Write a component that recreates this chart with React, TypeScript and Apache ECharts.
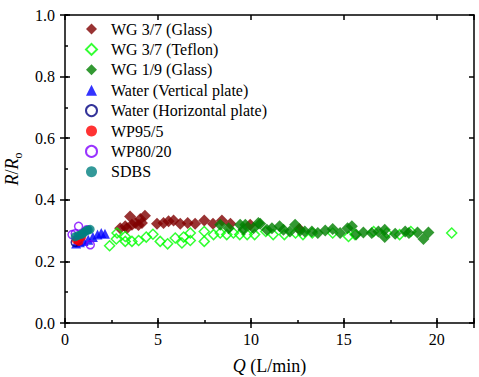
import React, { useEffect, useRef } from "react";
import * as echarts from "echarts";

// WG 3/7 (Glass)
const wg37GlassQ = [2.97, 3.24, 3.33, 3.5, 3.6, 3.78, 3.95, 4.05, 4.14, 4.3, 4.95, 5.3, 5.57, 5.84, 6.2, 6.6, 7.0, 7.49, 7.96, 8.44, 8.9, 9.96, 12.6];
const wg37GlassR = [0.308, 0.314, 0.308, 0.346, 0.319, 0.325, 0.318, 0.338, 0.325, 0.348, 0.322, 0.325, 0.33, 0.333, 0.322, 0.325, 0.322, 0.333, 0.322, 0.333, 0.322, 0.319, 0.305];

// WG 3/7 (Teflon)
const wg37TeflonQ = [2.4, 2.76, 2.8, 3.24, 3.24, 3.6, 3.96, 4.37, 4.73, 5.12, 5.52, 5.93, 6.29, 6.38, 6.74, 6.74, 7.49, 7.49, 7.99, 8.35, 8.7, 9.06, 9.4, 9.8, 10.2, 10.8, 11.2, 11.8, 12.4, 12.8, 13.3, 14.4, 15.25, 15.6, 16.6, 17.3, 18.0, 18.6, 20.8];
const wg37TeflonR = [0.251, 0.273, 0.292, 0.281, 0.265, 0.265, 0.268, 0.279, 0.288, 0.265, 0.257, 0.276, 0.26, 0.279, 0.292, 0.268, 0.297, 0.265, 0.287, 0.292, 0.287, 0.292, 0.287, 0.287, 0.287, 0.297, 0.287, 0.287, 0.292, 0.287, 0.292, 0.292, 0.281, 0.287, 0.297, 0.292, 0.287, 0.297, 0.292];

// WG 1/9 (Glass)
const wg19GlassQ = [8.35, 8.8, 9.42, 9.6, 9.7, 10.14, 10.4, 10.5, 10.86, 11.13, 11.54, 11.75, 12.1, 12.38, 12.65, 12.9, 13.28, 13.6, 14.0, 14.4, 14.8, 15.2, 15.43, 15.66, 16.05, 16.5, 16.86, 17.2, 17.2, 17.76, 18.3, 18.5, 18.96, 19.28, 19.55];
const wg19GlassR = [0.319, 0.308, 0.319, 0.303, 0.319, 0.308, 0.325, 0.322, 0.303, 0.308, 0.314, 0.303, 0.297, 0.319, 0.3, 0.297, 0.297, 0.292, 0.3, 0.305, 0.292, 0.308, 0.314, 0.287, 0.294, 0.292, 0.297, 0.303, 0.279, 0.29, 0.297, 0.292, 0.294, 0.273, 0.294];

// Water (Vertical plate)
const waterVertQ = [0.6, 0.8, 1.0, 1.25, 1.5, 1.75, 1.95, 2.15];
const waterVertR = [0.258, 0.262, 0.266, 0.27, 0.279, 0.287, 0.292, 0.29];

// Water (Horizontal plate)
const waterHorQ = [0.55, 0.7];
const waterHorR = [0.262, 0.27];

// WP95/5
const wp95Q = [0.6, 0.75, 0.9];
const wp95R = [0.27, 0.265, 0.28];

// WP80/20
const wp80Q = [0.38, 0.55, 0.73, 1.18, 1.36];
const wp80R = [0.287, 0.29, 0.314, 0.303, 0.254];

// SDBS
const sdbsQ = [0.55, 0.7, 0.85, 0.95, 1.05, 1.15, 1.25, 1.35];
const sdbsR = [0.28, 0.284, 0.287, 0.29, 0.295, 0.3, 0.302, 0.304];

const xTicks = { min: 0, max: 22, interval: 5 };
const yTicks = { min: 0, max: 1, interval: 0.2 };

const FONT = "Liberation Serif, Times New Roman, serif";

function pairs(q: number[], r: number[]) {
  return q.map((v, i) => [v, r[i]]);
}

export default function App() {
  const ref = useRef<HTMLDivElement>(null);
  useEffect(() => {
    const chart = echarts.init(ref.current!, null, { renderer: "svg" });
    const lineStyle = { color: "#000", width: 1.5 };
    const baseX = (extra: any) => ({
      type: "value",
      min: xTicks.min,
      max: xTicks.max,
      interval: xTicks.interval,
      position: "bottom",
      axisLabel: { show: false },
      axisLine: { show: false },
      splitLine: { show: false },
      axisTick: { show: false },
      ...extra,
    });
    const baseY = (extra: any) => ({
      type: "value",
      min: yTicks.min,
      max: yTicks.max,
      interval: yTicks.interval,
      position: "left",
      axisLabel: { show: false },
      axisLine: { show: false },
      splitLine: { show: false },
      axisTick: { show: false },
      ...extra,
    });

    const scatter = (name: string, data: number[][], symbol: string, size: number, itemStyle: any) => ({
      name,
      type: "scatter",
      data,
      symbol,
      symbolSize: size,
      itemStyle,
      xAxisIndex: 0,
      yAxisIndex: 0,
      emphasis: { disabled: true },
    });
    const hollow = (c: string) => ({ color: "rgba(255,255,255,0)", borderColor: c, borderWidth: 1.5 });

    chart.setOption({
      animation: false,
      backgroundColor: "#fff",
      textStyle: { fontFamily: FONT },
      grid: { left: 65, right: 5, top: 15, bottom: 54, outerBoundsMode: "none", containLabel: false },
      legend: {
        orient: "vertical",
        left: 80,
        top: 16,
        itemWidth: 11,
        itemHeight: 11,
        itemGap: 4.4,
        textStyle: { fontSize: 16, fontFamily: FONT, color: "#000", lineHeight: 16, padding: [0, 0, 0, 9] },
        data: [
          "WG 3/7 (Glass)",
          "WG 3/7 (Teflon)",
          "WG 1/9 (Glass)",
          "Water (Vertical plate)",
          "Water (Horizontal plate)",
          "WP95/5",
          "WP80/20",
          "SDBS",
        ],
      },
      xAxis: [
        baseX({
          axisLine: { show: true, lineStyle, onZero: false },
          axisTick: { show: true, inside: false, length: 5, lineStyle },
          axisLabel: {
            show: true,
            margin: 8,
            fontSize: 16,
            fontFamily: FONT,
            color: "#000",
            formatter: (v: number) => (v % 5 === 0 ? String(v) : ""),
          },
          name: "{i|Q} (L/min)",
          nameLocation: "middle",
          nameGap: 34,
          nameTextStyle: {
            fontSize: 18,
            fontFamily: FONT,
            color: "#000",
            rich: { i: { fontStyle: "italic", fontSize: 18, fontFamily: FONT, color: "#000" } },
          },
        }),
        baseX({ axisTick: { show: true, inside: true, length: 5, lineStyle } }),
        baseX({ interval: 2.5, axisTick: { show: true, inside: true, length: 3, lineStyle } }),
        baseX({
          position: "top",
          axisLine: { show: true, lineStyle, onZero: false },
          axisTick: { show: true, inside: true, length: 5, lineStyle },
        }),
      ],
      yAxis: [
        baseY({
          axisLine: { show: true, lineStyle, onZero: false },
          axisTick: { show: true, inside: false, length: 5, lineStyle },
          axisLabel: {
            show: true,
            margin: 10,
            fontSize: 16,
            fontFamily: FONT,
            color: "#000",
            formatter: (v: number) => v.toFixed(1),
          },
          name: "{i|R}/{i|R}{s|o}",
          nameLocation: "middle",
          nameGap: 32,
          nameTextStyle: {
            fontSize: 18,
            fontFamily: FONT,
            color: "#000",
            rich: {
              i: { fontStyle: "italic", fontSize: 18, fontFamily: FONT, color: "#000", lineHeight: 24 },
              s: { fontSize: 12, fontFamily: FONT, color: "#000", verticalAlign: "bottom", lineHeight: 12 },
            },
          },
        }),
        baseY({ axisTick: { show: true, inside: true, length: 5, lineStyle } }),
        baseY({ interval: 0.1, axisTick: { show: true, inside: true, length: 3, lineStyle } }),
        baseY({
          position: "right",
          axisLine: { show: true, lineStyle, onZero: false },
          axisTick: { show: true, inside: true, length: 5, lineStyle },
        }),
      ],
      series: [
        scatter("WG 3/7 (Glass)", pairs(wg37GlassQ, wg37GlassR), "diamond", 12, { color: "#800000" }),
        scatter("WG 3/7 (Teflon)", pairs(wg37TeflonQ, wg37TeflonR), "diamond", 10, hollow("#00ff00")),
        scatter("WG 1/9 (Glass)", pairs(wg19GlassQ, wg19GlassR), "diamond", 12, { color: "#008000" }),
        scatter("Water (Vertical plate)", pairs(waterVertQ, waterVertR), "triangle", 10, { color: "#0000ff" }),
        scatter("Water (Horizontal plate)", pairs(waterHorQ, waterHorR), "circle", 8, hollow("#000080")),
        scatter("WP95/5", pairs(wp95Q, wp95R), "circle", 9, { color: "#ff0000" }),
        scatter("WP80/20", pairs(wp80Q, wp80R), "circle", 8, hollow("#8000ff")),
        scatter("SDBS", pairs(sdbsQ, sdbsR), "circle", 9, { color: "#008080" }),
      ],
    });
    return () => chart.dispose();
  }, []);
  return (
    <div
      ref={ref}
      style={{ position: "fixed", left: 0, top: 0, width: 479, height: 377, background: "#fff" }}
    />
  );
}
